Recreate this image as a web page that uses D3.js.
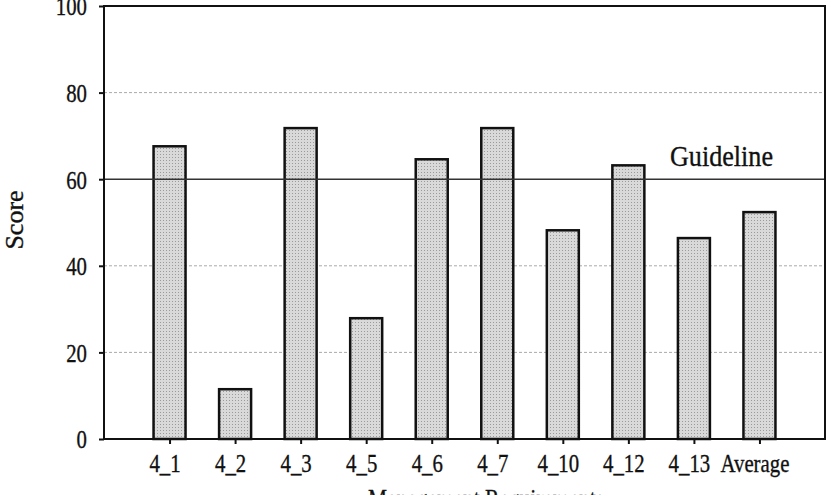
<!DOCTYPE html>
<html>
<head>
<meta charset="utf-8">
<script src="https://cdn.jsdelivr.net/npm/d3@7"></script>
<style>
  body { margin: 0; background: #fff; }
  text { font-family: "Liberation Serif", "DejaVu Serif", serif; fill: #111; stroke: #111; stroke-width: 0.35; }
</style>
</head>
<body>
<svg id="chart" width="831" height="495"></svg>
<script>
// chart data
var categories = ['4_1', '4_2', '4_3', '4_5', '4_6', '4_7', '4_10', '4_12', '4_13', 'Average'];
var scores     = [67.6, 11.5, 71.8, 27.9, 64.6, 71.8, 48.2, 63.2, 46.4, 52.4];
var yTicks     = [0, 20, 40, 60, 80, 100];
var gridValues = [20, 40, 80];
var guideline  = 60;

var svg = d3.select('#chart');
// plot box ("top" is taken by window.top, so use other names)
var plotL = 104, plotR = 825, plotT = 6, plotB = 439;
var squeeze = 0.8;   // the scanned tick font is tall and narrow

var x = d3.scalePoint().domain(categories).range([plotL, plotR]).padding(1);
var y = d3.scaleLinear().domain([0, 100]).range([plotB, plotT]);

// stippled grey fill for the bars
var defs = svg.append('defs');
var pat = defs.append('pattern')
    .attr('id', 'stipple')
    .attr('width', 3).attr('height', 3)
    .attr('patternUnits', 'userSpaceOnUse');
pat.append('rect').attr('width', 3).attr('height', 3).attr('fill', '#d9d9d9');
pat.append('rect').attr('x', 1).attr('y', 1).attr('width', 1).attr('height', 1).attr('fill', '#9a9a9a');

// dotted grid lines
svg.append('g').selectAll('line')
    .data(gridValues)
    .enter()
        .append('line')
        .attr('x1', plotL).attr('x2', plotR)
        .attr('y1', function(d) { return y(d); })
        .attr('y2', function(d) { return y(d); })
        .attr('stroke', '#aaa')
        .attr('stroke-width', 1)
        .attr('stroke-dasharray', '3,2');

// bars
var barWidth = 32;
svg.append('g').selectAll('rect')
    .data(scores)
    .enter()
        .append('rect')
        .attr('x', function(d, i) { return x(categories[i]) - barWidth / 2; })
        .attr('y', function(d) { return y(d); })
        .attr('width', barWidth)
        .attr('height', function(d) { return y(0) - y(d); })
        .attr('fill', 'url(#stipple)')
        .attr('stroke', '#111')
        .attr('stroke-width', 2.5);

// guideline
svg.append('line')
    .attr('x1', plotL).attr('x2', plotR)
    .attr('y1', y(guideline)).attr('y2', y(guideline))
    .attr('stroke', '#333')
    .attr('stroke-width', 1.5);

svg.append('text')
    .attr('x', 670).attr('y', 166)
    .attr('font-size', 30)
    .attr('textLength', 103)
    .attr('lengthAdjust', 'spacingAndGlyphs')
    .text('Guideline');

// frame
svg.append('rect')
    .attr('x', plotL).attr('y', plotT)
    .attr('width', plotR - plotL).attr('height', plotB - plotT)
    .attr('fill', 'none')
    .attr('stroke', '#111')
    .attr('stroke-width', 2);

// axes
var yAxis = svg.append('g')
    .attr('transform', 'translate(' + plotL + ',0)')
    .call(d3.axisLeft(y).tickValues(yTicks).tickSize(5));
var xAxis = svg.append('g')
    .attr('transform', 'translate(0,' + plotB + ')')
    .call(d3.axisBottom(x).tickSize(5));

[yAxis, xAxis].forEach(function(a) {
    a.select('.domain').remove();
    a.selectAll('line').attr('stroke', '#111').attr('stroke-width', 2);
    a.selectAll('text')
        .attr('font-family', '"Liberation Serif", serif')
        .attr('font-size', 26)
        .attr('fill', '#111');
});

// y labels: right edge 17px left of the axis, narrowed
yAxis.selectAll('text')
    .attr('x', -17 / squeeze)
    .attr('dy', '0.34em')
    .attr('transform', 'scale(' + squeeze + ',1)');

// x labels: baseline near 472, narrowed about their centre
xAxis.selectAll('text')
    .attr('y', 33)
    .attr('dy', null)
    .attr('x', -5 / squeeze)
    .attr('transform', 'scale(' + squeeze + ',1)');

// axis titles
svg.append('text')
    .attr('transform', 'translate(23,220) rotate(-90)')
    .attr('text-anchor', 'middle')
    .attr('font-size', 26)
    .text('Score');

svg.append('text')
    .attr('x', 368).attr('y', 507)
    .attr('font-size', 26)
    .attr('textLength', 236)
    .attr('lengthAdjust', 'spacingAndGlyphs')
    .text('Management Requirements');
</script>
</body>
</html>
